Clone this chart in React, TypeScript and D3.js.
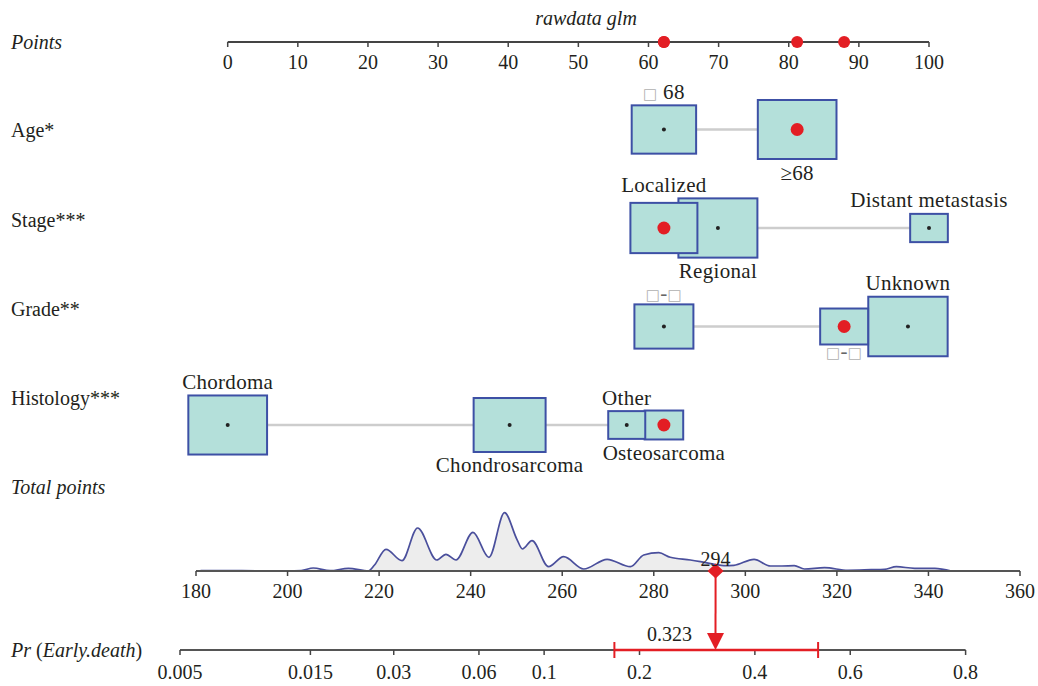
import React from "react";
import * as d3 from "d3";

// ---------------- data ----------------
const pointsTicks = [0, 10, 20, 30, 40, 50, 60, 70, 80, 90, 100];
const totalTicks = [180, 200, 220, 240, 260, 280, 300, 320, 340, 360];
const prTicks = [0.005, 0.015, 0.03, 0.06, 0.1, 0.2, 0.4, 0.6, 0.8];

const variableNames = ["Age*", "Stage***", "Grade**", "Histology***"];

const ageLevels = ["□ 68", "≥68"];
const agePoints = [62.2, 81.2];
const ageCounts = [415, 619];
const ageSides = ["above", "below"];
const ageSelected = 1;

const stageLevels = ["Localized", "Regional", "Distant metastasis"];
const stagePoints = [62.2, 69.9, 100];
const stageCounts = [449, 624, 142];
const stageSides = ["above", "below", "above"];
const stageSelected = 0;

const gradeLevels = ["□-□", "□-□", "Unknown"];
const gradePoints = [62.2, 87.9, 97.0];
const gradeCounts = [348, 230, 630];
const gradeSides = ["above", "below", "above"];
const gradeSelected = 1;

const histLevels = ["Chordoma", "Chondrosarcoma", "Other", "Osteosarcoma"];
const histPoints = [0, 40.2, 56.9, 62.2];
const histCounts = [620, 518, 137, 149];
const histSides = ["above", "below", "above", "below"];
const histSelected = 3;

// density of total points in the raw data (arbitrary units)
const densityTotals = [181, 190, 200, 203, 205.6, 209.3, 213.3, 217.7, 219, 221.5, 225, 228.4, 232.6, 234.6, 236.8, 240.5, 244, 247.4, 250.1, 251.3, 253.4, 257, 260.3, 264.7, 269.8, 274.9, 277.8, 281.1, 283.6, 288, 290.2, 293.5, 295.3, 297.5, 301.9, 305.5, 308, 310.7, 312.9, 317.3, 322.4, 327.5, 330.4, 333, 337, 341.4, 345];
const densityValues = [0.3, 0.3, 0.2, 0.5, 3, 0.3, 2.7, 0.2, 6, 21.7, 10.3, 43, 11, 16.7, 11, 38.7, 13.7, 58.3, 31.7, 22, 30.3, 4.3, 14.3, 2, 11.7, 4.3, 16, 18.3, 13.7, 11, 9.3, 6.5, 5.3, 5.7, 11.7, 5, 5, 5.3, 2, 3.3, 0.7, 1.3, 1.7, 4.3, 2.7, 2.7, 0];

const totalLabel = "294";
const predicted = 0.323;
const ciLow = 0.168;
const ciHigh = 0.533;

// ---------------- layout ----------------
const W = 1038;
const H = 686;
const FONT = '"Liberation Serif", "Times New Roman", serif';
const TEXT = "#231f20";
const RED = "#e31e24";
const BOX_FILL = "#b4e0da";
const BOX_STROKE = "#3d50a5";

const vars = [
  { levels: ageLevels, points: agePoints, counts: ageCounts, sides: ageSides, sel: ageSelected },
  { levels: stageLevels, points: stagePoints, counts: stageCounts, sides: stageSides, sel: stageSelected },
  { levels: gradeLevels, points: gradePoints, counts: gradeCounts, sides: gradeSides, sel: gradeSelected },
  { levels: histLevels, points: histPoints, counts: histCounts, sides: histSides, sel: histSelected },
];

const xPts = d3.scaleLinear().domain([0, 100]).range([227.7, 929]);
const xTot = d3.scaleLinear().domain([180, 360]).range([196, 1020]);
const logit = (p: number) => Math.log(p / (1 - p));
const prLin = d3.scaleLinear().domain([logit(0.005), logit(0.8)]).range([180, 965.6]);
const xPr = (p: number) => prLin(logit(p));
const rowY = d3.scaleLinear().domain([0, 3]).range([129.5, 425]);
const nameY = d3.scaleLinear().domain([0, 3]).range([137.3, 405]);
const boxW = d3.scaleSqrt().domain([0, 640]).range([0, 80]);
const dY = d3.scaleLinear().domain([0, 60]).range([571, 511]);

const PTS_Y = 42;
const TOT_Y = 571;
const PR_Y = 650;

function LevelText({ s, x, y }: { s: string; x: number; y: number }) {
  const parts = s.split(/(□)/).filter((p) => p.length > 0);
  return (
    <text x={x} y={y} textAnchor="middle" fontSize={21} letterSpacing={0.3} fontFamily={FONT} fill={TEXT}>
      {parts.map((p, i) =>
        p === "□" ? (
          <tspan key={i} fill="#b0b0b0" fontSize={15} fontFamily="DejaVu Sans">
            □
          </tspan>
        ) : (
          <tspan key={i} fill={p.trim() === "-" ? "#666" : TEXT}>{p}</tspan>
        )
      )}
    </text>
  );
}

export default function App() {
  const density = densityTotals.map((t, i) => [t, densityValues[i]] as [number, number]);
  const area = d3
    .area<[number, number]>()
    .x((d) => xTot(d[0]))
    .y0(TOT_Y)
    .y1((d) => dY(d[1]))
    .curve(d3.curveMonotoneX);
  const line = d3
    .line<[number, number]>()
    .x((d) => xTot(d[0]))
    .y((d) => dY(d[1]))
    .curve(d3.curveMonotoneX);

  const total = vars.reduce((s, v) => s + v.points[v.sel], 0);
  const xT = xTot(total);
  const xP = xPr(predicted);

  return (
    <svg width={W} height={H} style={{ position: "absolute", left: 0, top: 0, background: "#fff" }}>
      {/* Points axis */}
      <text x={11} y={49} fontSize={20} fontStyle="italic" fontFamily={FONT} fill={TEXT}>
        Points
      </text>
      <text x={586} y={25} textAnchor="middle" fontSize={20} fontStyle="italic" fontFamily={FONT} fill={TEXT}>
        rawdata glm
      </text>
      <line x1={xPts(0)} x2={xPts(100)} y1={PTS_Y} y2={PTS_Y} stroke="#444" strokeWidth={2} />
      {pointsTicks.map((t) => (
        <g key={t}>
          <line x1={xPts(t)} x2={xPts(t)} y1={PTS_Y} y2={PTS_Y + 5} stroke="#444" strokeWidth={1.5} />
          <text x={xPts(t)} y={69} textAnchor="middle" fontSize={20} fontFamily={FONT} fill={TEXT}>
            {t}
          </text>
        </g>
      ))}
      {vars.map((v, i) => (
        <circle key={i} cx={xPts(v.points[v.sel])} cy={PTS_Y} r={6} fill={RED} />
      ))}

      {/* Variable rows */}
      {vars.map((v, vi) => {
        const cy = rowY(vi);
        const boxes = v.levels.map((lab, li) => {
          const w = boxW(v.counts[li]);
          const h = w * 0.75;
          const cx = xPts(v.points[li]);
          return { lab, li, w, h, cx, x0: cx - w / 2, x1: cx + w / 2, top: cy - h / 2, bottom: cy + h / 2 };
        });
        const minX = d3.min(boxes, (b) => b.cx) as number;
        const maxX = d3.max(boxes, (b) => b.cx) as number;
        const drawOrder = boxes.slice().sort((a, b) => b.w - a.w);
        return (
          <g key={vi}>
            <text x={11} y={nameY(vi)} fontSize={20} fontFamily={FONT} fill={TEXT}>
              {variableNames[vi]}
            </text>
            <line x1={minX} x2={maxX} y1={cy} y2={cy} stroke="#cdcdcd" strokeWidth={2.5} />
            {drawOrder.map((b) => (
              <g key={b.li}>
                <rect x={b.x0} y={b.top} width={b.w} height={b.h} fill={BOX_FILL} stroke={BOX_STROKE} strokeWidth={2} />
                {b.li === v.sel ? (
                  <circle cx={b.cx} cy={cy} r={6.5} fill={RED} />
                ) : (
                  <circle cx={b.cx} cy={cy} r={2} fill="#222" />
                )}
              </g>
            ))}
            {boxes.map((b) => {
              const overl = boxes.filter((o) => o.li !== b.li && o.x0 < b.x1 - 2 && o.x1 > b.x0 + 2);
              const small = /^[□\-\s]+$/.test(b.lab);
              if (v.sides[b.li] === "above") {
                const top = Math.min(b.top, ...overl.map((o) => o.top));
                return <LevelText key={"t" + b.li} s={b.lab} x={b.cx} y={top - (small ? 4.5 : 6.5)} />;
              }
              const bottom = Math.max(b.bottom, ...overl.map((o) => o.bottom));
              return <LevelText key={"t" + b.li} s={b.lab} x={b.cx} y={bottom + (small ? 14 : 20.5)} />;
            })}
          </g>
        );
      })}

      {/* Total points */}
      <text x={11} y={494} fontSize={20} fontStyle="italic" fontFamily={FONT} fill={TEXT}>
        Total points
      </text>
      <path d={area(density) || ""} fill="#ededed" />
      <path d={line(density) || ""} fill="none" stroke="#4a4f9c" strokeWidth={1.7} />
      <line x1={xTot(180)} x2={xTot(360)} y1={TOT_Y} y2={TOT_Y} stroke="#555" strokeWidth={2} />
      {totalTicks.map((t) => (
        <g key={t}>
          <line x1={xTot(t)} x2={xTot(t)} y1={TOT_Y} y2={TOT_Y + 5} stroke="#444" strokeWidth={1.5} />
          <text x={xTot(t)} y={598} textAnchor="middle" fontSize={20} fontFamily={FONT} fill={TEXT}>
            {t}
          </text>
        </g>
      ))}

      {/* Pr axis */}
      <text x={11} y={657} fontSize={20} fontFamily={FONT} fill={TEXT}>
        <tspan fontStyle="italic">Pr</tspan>
        <tspan> (</tspan>
        <tspan fontStyle="italic">Early.death</tspan>
        <tspan>)</tspan>
      </text>
      <line x1={xPr(0.005)} x2={xPr(0.8)} y1={PR_Y} y2={PR_Y} stroke="#555" strokeWidth={2} />
      {prTicks.map((t) => (
        <g key={t}>
          <line x1={xPr(t)} x2={xPr(t)} y1={PR_Y} y2={PR_Y + 5} stroke="#444" strokeWidth={1.5} />
          <text x={xPr(t)} y={679} textAnchor="middle" fontSize={20} fontFamily={FONT} fill={TEXT}>
            {t}
          </text>
        </g>
      ))}

      {/* prediction */}
      <line x1={xPr(ciLow)} x2={xPr(ciHigh)} y1={PR_Y} y2={PR_Y} stroke={RED} strokeWidth={2.5} />
      <line x1={xPr(ciLow)} x2={xPr(ciLow)} y1={PR_Y - 8} y2={PR_Y + 8} stroke={RED} strokeWidth={2} />
      <line x1={xPr(ciHigh)} x2={xPr(ciHigh)} y1={PR_Y - 8} y2={PR_Y + 8} stroke={RED} strokeWidth={2} />
      <line x1={xT} x2={xP} y1={TOT_Y} y2={PR_Y - 17} stroke={RED} strokeWidth={2} />
      <path d={`M${xP - 8.5},${PR_Y - 17} L${xP + 8.5},${PR_Y - 17} L${xP},${PR_Y} Z`} fill={RED} />
      <path d={`M${xT},${TOT_Y - 7.5} L${xT + 8},${TOT_Y} L${xT},${TOT_Y + 7.5} L${xT - 8},${TOT_Y} Z`} fill={RED} />
      <text x={xT} y={566} textAnchor="middle" fontSize={20} fontFamily={FONT} fill={TEXT}>
        {totalLabel}
      </text>
      <text x={xP - 46} y={641} textAnchor="middle" fontSize={20} fontFamily={FONT} fill={TEXT}>
        {predicted}
      </text>
    </svg>
  );
}
